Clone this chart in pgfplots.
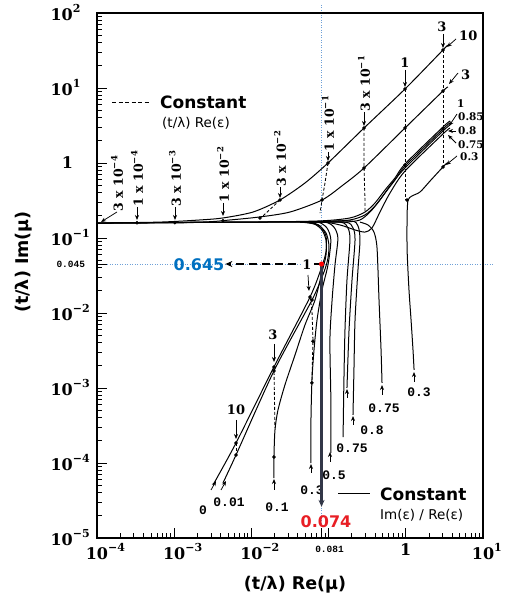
\documentclass[border=0pt]{standalone}
\usepackage{fontspec}
\usepackage{pgfplots}
\pgfplotsset{compat=1.18}
\usetikzlibrary{arrows.meta}
\newfontfamily\sansf{DejaVu Sans}
\newfontfamily\serifb{DejaVu Serif}
\newfontfamily\monof{Liberation Mono}
\definecolor{bluetxt}{RGB}{0,112,192}
\definecolor{redtxt}{RGB}{232,30,36}
\definecolor{dotblue}{RGB}{110,160,215}
\definecolor{thickc}{RGB}{50,55,72}
\newcommand\tl[1]{10\rlap{\raisebox{0.5em}{\fontsize{11}{11}\selectfont #1}}}
\newcommand\rt[2]{#1 x 10\raisebox{0.45em}{\fontsize{8.5}{8.5}\selectfont #2}}
\begin{document}
\begin{tikzpicture}
\useasboundingbox (-97pt,-61pt) rectangle (410pt,538pt);
% annotations below the plot (pixel coordinates of the reference)
\begin{scope}[x=1pt,y=-1pt,shift={(-97pt,538pt)},
  arr/.style={-{Stealth[length=5pt,width=4pt]}, line width=0.75pt},
  rl/.style={rotate=90, anchor=west, inner sep=0.5pt, font=\serifb\bfseries\fontsize{12.5}{12.5}\selectfont},
  nl/.style={inner sep=0pt, font=\serifb\bfseries\fontsize{13}{13}\selectfont},
  sl/.style={inner sep=0pt, anchor=west, font=\serifb\bfseries\fontsize{10.5}{10.5}\selectfont},
  ml/.style={inner sep=0pt, font=\monof\bfseries\fontsize{13}{13}\selectfont}]
\draw[dotblue, line width=0.6pt, dash pattern=on 1pt off 1.5pt] (321.5,5) -- (321.5,538);
\draw[dotblue, line width=0.6pt, dash pattern=on 1pt off 1.5pt] (97,264) -- (494,264);
% constant Re(eps) labels
\draw[arr] (117,212) -- (101,222); \node[rl] at (117,212) {\rt{3}{−4}};
\draw[arr] (137,207) -- (137,220); \node[rl] at (137,207) {\rt{1}{−4}};
\draw[arr] (175,207) -- (175,220); \node[rl] at (175,207) {\rt{3}{−3}};
\draw[arr] (223,203) -- (223,216); \node[rl] at (223,203) {\rt{1}{−2}};
\draw[arr] (280,187) -- (280,198); \node[rl] at (280,187) {\rt{3}{−2}};
\draw[arr] (328,152) -- (328,161); \node[rl] at (328,152) {\rt{1}{−1}};
\draw[arr] (364,112) -- (364,126); \node[rl] at (364,112) {\rt{3}{−1}};
\node[nl] at (405,63) {1}; \draw[arr] (405,70) -- (405,87);
\node[nl] at (442,27) {3}; \draw[arr] (443,34) -- (443,48);
% right labels
\node[nl, anchor=west] at (459,36) {10}; \draw[arr] (456,39) -- (447,47);
\node[nl, anchor=west] at (461,75) {3}; \draw[arr] (458,73) -- (449,84);
\node[sl] at (457,104) {1};
\node[sl] at (458,117) {0.85}; \draw[arr] (457,114) -- (449,126);
\node[sl] at (458,131) {0.8}; \draw[arr] (456,131) -- (448,131);
\node[sl] at (458,145) {0.75}; \draw[arr] (456,143) -- (448,135);
\node[sl] at (460,157) {0.3}; \draw[arr] (457,156) -- (446,165);
% lower-left labels
\node[nl] at (273,335) {3}; \draw[arr] (274,344) -- (274,362);
\node[nl] at (236,410) {10}; \draw[arr] (236,420) -- (236,439);
\draw[arr] (308,275) -- (309,291);
% bottom labels
\node[ml] at (203,510) {0};
\node[ml] at (229,502) {0.01};
\node[ml] at (277,507) {0.1};
\node[ml] at (312,490) {0.3};
\node[ml] at (334,475) {0.5};
\node[ml] at (352,448) {0.75};
\node[ml] at (372,430) {0.8};
\node[ml] at (384,408) {0.75};
\node[ml] at (419,392) {0.3};
\draw[arr] (211,490) -- (216,481);
\draw[arr] (221,490) -- (226,481);
\draw[arr] (274,490) -- (274,479);
\draw[arr] (311,473) -- (311,464);
\draw[arr] (330,462) -- (330,452);
\draw[arr] (347,398) -- (347,389);
\draw[arr] (353,425) -- (353,416);
\draw[arr] (382,395) -- (382,385);
\draw[arr] (414,382) -- (414,372);
% legends
\draw[dash pattern=on 4pt off 2.5pt, line width=1pt] (112,103) -- (150,103);
\node[anchor=west, inner sep=0pt, font=\sansf\bfseries\fontsize{17}{17}\selectfont] at (160,102) {Constant};
\node[anchor=west, inner sep=0pt, font=\sansf\fontsize{13.5}{13.5}\selectfont] at (162,123) {(t/λ) Re(ε)};
\draw[line width=1pt] (338,494) -- (370,494);
\node[anchor=west, inner sep=0pt, font=\sansf\bfseries\fontsize{17}{17}\selectfont] at (380,494) {Constant};
\node[anchor=west, inner sep=0pt, font=\sansf\fontsize{13.5}{13.5}\selectfont] at (380,515) {Im(ε) / Re(ε)};
\node[inner sep=0pt, text=bluetxt, font=\sansf\bfseries\fontsize{16}{16}\selectfont] at (199,265) {0.645};
\node[inner sep=0pt, text=redtxt, font=\sansf\bfseries\fontsize{16}{16}\selectfont] at (326,522) {0.074};
% axis titles
\node[font=\sansf\bfseries\fontsize{17.5}{17.5}\selectfont] at (295,585) {(t/λ) Re(μ)};
\node[rotate=90, font=\sansf\bfseries\fontsize{17.5}{17.5}\selectfont] at (24,262) {(t/λ) Im(μ)};
\end{scope}

\begin{axis}[
  at={(0pt,0pt)}, anchor=south west,
  scale only axis, width=386pt, height=525pt,
  xmode=log, ymode=log,
  xmin=1e-4, xmax=10, ymin=1e-5, ymax=100,
  clip=false,
  axis line style={line width=1.4pt},
  tick align=inside,
  xtick pos=bottom, ytick pos=left,
  major tick length=10pt, minor tick length=5pt,
  every tick/.style={black, line width=0.8pt},
  xtick={1e-4,1e-3,1e-2,1e-1,1,10},
  xticklabels={\tl{−4},\tl{−3},\tl{−2},{},1,\tl{1}},
  ytick={1e-5,1e-4,1e-3,1e-2,1e-1,1,10,100},
  yticklabels={\tl{−5},\tl{−4},\tl{−3},\tl{−2},\tl{−1},\makebox[34pt]{1},\tl{1},\tl{2}},
  tick label style={font=\serifb\bfseries\fontsize{16}{16}\selectfont},
  yticklabel style={anchor=west, xshift=-50pt},
  xticklabel style={yshift=-2pt},
  extra x ticks={0.081},
  extra x tick labels={\monof\bfseries\fontsize{9.5}{9.5}\selectfont 0.081},
  extra x tick style={xticklabel style={xshift=8pt, yshift=-3pt}},
  extra y ticks={0.045},
  extra y tick labels={\hspace*{6pt}\monof\bfseries\fontsize{9.5}{9.5}\selectfont 0.045},
  curve/.style={black, line width=1pt, smooth, tension=0.45},
  dsh/.style={black, line width=0.85pt, dash pattern=on 3pt off 2pt},
]
% constant Im/Re curves rising
\addplot[curve] coordinates {(1e-4,0.158)(6.55e-4,0.163)(2.16e-3,0.174)(4.28e-3,0.185)(0.0105,0.222)(0.0234,0.321)(0.0494,0.541)(0.0982,1.0)(0.288,2.93)(0.977,9.70)(3.03,32.1)(3.52,37.4)};
\addplot[curve] coordinates {(1e-4,0.158)(2.16e-3,0.163)(5.28e-3,0.174)(0.0129,0.191)(0.0316,0.222)(0.0822,0.321)(0.154,0.509)(0.288,0.858)(0.977,2.93)(3.03,9.12)(3.52,10.3)};
\addplot[curve] coordinates {(1e-4,0.158)(9.59e-3,0.163)(0.0774,0.169)(0.189,0.185)(0.296,0.222)(0.399,0.293)(0.538,0.437)(0.724,0.631)(0.977,0.970)(3.03,3.02)(3.74,3.63)};
\addplot[curve] coordinates {(1e-4,0.158)(9.59e-3,0.163)(0.0774,0.165)(0.189,0.174)(0.296,0.203)(0.399,0.267)(0.538,0.398)(0.724,0.593)(0.977,0.912)(3.03,2.84)(3.74,3.42)};
\addplot[curve] coordinates {(1e-4,0.158)(9.59e-3,0.163)(0.0774,0.163)(0.163,0.163)(0.255,0.174)(0.344,0.222)(0.463,0.321)(0.624,0.494)(0.977,0.858)(3.03,2.67)(3.74,3.21)};
\addplot[curve] coordinates {(1e-4,0.158)(9.59e-3,0.163)(0.0774,0.163)(0.141,0.149)(0.220,0.128)(0.296,0.120)(0.365,0.136)(0.463,0.222)(0.624,0.398)(0.977,0.782)(3.03,2.44)(3.74,2.93)};
% descending branches
\addplot[curve] coordinates {(3.42,1.0)(3.03,0.885)(2.06,0.575)(1.53,0.411)(1.20,0.363)(1.07,0.321)(1.04,0.203)(1.04,0.0692)(1.10,0.0203)(1.17,8.07e-3)(1.24,3.21e-3)(1.28,1.74e-3)};
\addplot[curve] coordinates {(0.255,0.163)(0.324,0.149)(0.387,0.120)(0.424,0.0736)(0.450,0.0149)(0.478,3.21e-3)(0.492,1.17e-3)};
\addplot[curve] coordinates {(0.0427,0.163)(0.189,0.169)(0.240,0.145)(0.255,0.0940)(0.240,0.0374)(0.220,8.07e-3)(0.213,1.74e-3)(0.207,4.37e-4)};
\addplot[curve] coordinates {(0.0427,0.163)(0.163,0.163)(0.207,0.136)(0.220,0.094)(0.201,0.0275)(0.184,5.93e-3)(0.173,1.0e-3)};
\addplot[curve] coordinates {(0.0427,0.163)(0.141,0.163)(0.178,0.136)(0.189,0.094)(0.173,0.0275)(0.163,5.93e-3)(0.158,1.28e-3)(0.154,2.22e-4)};
\addplot[curve] coordinates {(0.0427,0.163)(0.0898,0.163)(0.117,0.140)(0.132,0.1)(0.121,0.0437)(0.111,0.0149)(0.104,4.37e-3)(0.107,6.92e-4)(0.107,1.36e-4)};
\addplot[curve] coordinates {(0.0427,0.163)(0.0729,0.163)(0.0953,0.136)(0.107,0.094)(0.0982,0.0437)(0.0822,0.0203)(0.0708,8.07e-3)(0.0647,3.21e-3)(0.0609,1.28e-3)(0.0591,3.74e-4)(0.0591,1.0e-4)};
\addplot[curve] coordinates {(0.0427,0.163)(0.0574,0.163)(0.0774,0.145)(0.0925,0.106)(0.0925,0.0593)(0.0822,0.0352)(0.0667,0.0149)(0.0494,6.92e-3)(0.0367,2.75e-3)(0.0272,1.10e-3)(0.0221,5.09e-4)(0.0202,2.75e-4)(0.0196,1.20e-4)(0.0196,6.31e-5)};
\addplot[curve] coordinates {(0.0427,0.163)(0.0647,0.154)(0.0822,0.128)(0.0925,0.094)(0.0925,0.0651)(0.0822,0.0423)(0.0574,0.0163)(0.0196,1.91e-3)(6.32e-3,1.85e-4)(3.18e-3,5.09e-5)};
\addplot[curve] coordinates {(0.0494,0.163)(0.0729,0.149)(0.0925,0.117)(0.101,0.0807)(0.0982,0.0541)(0.0871,0.0352)(0.0609,0.0149)(0.0196,1.69e-3)(6.32e-3,1.28e-4)(4.28e-3,5.41e-5)};
% constant (t/lambda) Re(eps) dashed curves
\addplot[dsh] coordinates {(3.03,32.1)(3.03,0.885)};
\addplot[dsh] coordinates {(0.977,9.70)(0.977,0.321)};
\addplot[dsh] coordinates {(0.288,2.93)(0.288,0.858)(0.296,0.321)(0.296,0.215)};
\addplot[dsh] coordinates {(0.0982,1.0)(0.0898,0.541)(0.0822,0.321)(0.0774,0.215)};
\addplot[dsh] coordinates {(0.0234,0.321)(0.0137,0.191)};
\addplot[dsh] coordinates {(0.0574,0.0163)(0.0609,0.011)(0.0628,4.37e-3)(0.0609,1.28e-3)};
\addplot[dsh] coordinates {(0.0196,1.91e-3)(0.0202,2.93e-4)};
\addplot[dsh] coordinates {(6.32e-3,1.85e-4)(6.32e-3,1.28e-4)};
% intersection dots
\addplot[only marks, mark=*, mark size=1.6pt, black] coordinates {(0.0234,0.321)(0.0982,1.0)(0.288,2.93)(0.977,9.70)(3.03,32.1)(0.0822,0.321)(0.288,0.858)(0.977,2.93)(3.03,9.12)(0.977,0.94)(3.03,2.84)(3.03,0.885)(1.04,0.321)(3.30e-4,0.160)(1.02e-3,0.160)(4.28e-3,0.170)(0.0129,0.185)(0.0574,0.0163)(0.0609,0.0149)(0.0196,1.91e-3)(0.0196,1.69e-3)(6.32e-3,1.85e-4)(6.32e-3,1.28e-4)(0.0196,1.20e-4)(0.0609,1.17e-3)(0.0628,4.2e-3)};
% highlighted reading
\addplot[line width=2.2pt, color=thickc, -{Stealth[length=7pt,width=6pt]}] coordinates {(0.081,0.045)(0.081,2.6e-5)};
\addplot[line width=1.6pt, black, dash pattern=on 8pt off 5pt, -{Stealth[length=7pt,width=6pt]}] coordinates {(0.081,0.045)(4.6e-3,0.045)};
\addplot[only marks, mark=*, mark size=2.3pt, color=red] coordinates {(0.081,0.045)};
\end{axis}
\begin{scope}[x=1pt,y=-1pt,shift={(-97pt,538pt)}]
\node[fill=white, inner sep=1pt, font=\serifb\bfseries\fontsize{13}{13}\selectfont] at (307,265) {1};
\end{scope}
\end{tikzpicture}
\end{document}
